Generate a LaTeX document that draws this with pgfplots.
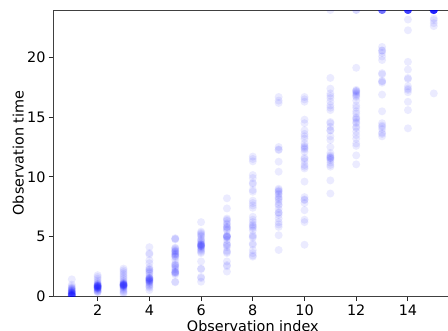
\documentclass[border=0pt]{standalone}
\usepackage{pgfplots}
\pgfplotsset{compat=1.18}
\usepackage{fontspec}
\setmainfont{DejaVu Sans}
\begin{document}
\begin{tikzpicture}
\begin{axis}[
  at={(0,0)}, anchor=south west,
  scale only axis, width=398.2pt, height=286pt,
  xmin=0.3, xmax=15.7, ymin=0, ymax=24,
  xtick={2,4,...,14}, ytick={0,5,...,20},
  tick pos=left, tick align=outside, major tick length=5pt,
  tick style={black!85, line width=0.9pt},
  axis line style={black!75, line width=1pt},
  /pgf/number format/assume math mode=true,
  ticklabel style={font=\fontsize{14.4}{17}\selectfont},
  xticklabel style={inner sep=4pt},
  yticklabel style={inner sep=3pt},
  xlabel={Observation index}, ylabel={Observation time},
  label style={font=\fontsize{14.4}{17}\selectfont},
  xlabel style={at={(axis description cs:0.5,-0.1234)}, anchor=base},
  ylabel style={at={(axis description cs:-0.0758,0.5)}, anchor=base},
  clip marker paths=true,
]
\addplot[only marks, mark=*, mark size=4pt, color=blue, mark options={fill=blue, draw opacity=0, fill opacity=0.08}] coordinates {
(1,1.4)(1,0.95)(1,0.8)(1,0.7)(1,0.65)(1,0.6)(1,0.55)(1,0.5)(1,0.45)(1,0.4)(1,0.35)(1,0.3)(1,0.3)(1,0.25)(1,0.2)(1,0.2)(1,0.15)(1,0.12)(1,0.1)(1,0.08)(1,0.05)(1,0.03)(1,0)(1,0)(1,0)(1,0.02)(1,0.1)(1,0.18)(1,0.25)(1,0.4)
(2,1.75)(2,1.6)(2,1.45)(2,1.3)(2,1.15)(2,1.05)(2,1.0)(2,0.95)(2,0.9)(2,0.88)(2,0.85)(2,0.82)(2,0.8)(2,0.78)(2,0.75)(2,0.72)(2,0.7)(2,0.68)(2,0.65)(2,0.6)(2,0.55)(2,0.5)(2,0.45)(2,0.4)(2,0.35)(2,0.3)(2,0.85)(2,0.75)(2,0.65)(2,0.9)
(3,2.3)(3,2.15)(3,2.0)(3,1.85)(3,1.7)(3,1.55)(3,1.4)(3,1.25)(3,1.1)(3,1.05)(3,1.0)(3,0.98)(3,0.95)(3,0.92)(3,0.9)(3,0.88)(3,0.85)(3,0.82)(3,0.8)(3,0.75)(3,0.7)(3,0.6)(3,0.5)(3,0.4)(3,0.3)(3,0.2)(3,1.0)(3,0.9)(3,0.95)(3,1.15)
(4,4.1)(4,3.6)(4,3.5)(4,2.75)(4,2.4)(4,2.25)(4,2.1)(4,2.0)(4,1.9)(4,1.7)(4,1.55)(4,1.5)(4,1.45)(4,1.4)(4,1.35)(4,1.3)(4,1.25)(4,1.2)(4,1.15)(4,1.1)(4,1.0)(4,0.9)(4,0.7)(4,0.5)(4,1.4)(4,1.3)(4,1.5)(4,2.2)(4,3.0)(4,0.8)
(5,4.85)(5,4.75)(5,4.05)(5,3.9)(5,3.75)(5,3.6)(5,3.5)(5,3.4)(5,3.3)(5,3.05)(5,2.75)(5,2.6)(5,2.5)(5,2.4)(5,2.25)(5,2.1)(5,2.0)(5,1.9)(5,1.8)(5,1.2)(5,1.15)(5,3.5)(5,3.7)(5,2.0)(5,4.0)(5,2.6)(5,3.3)(5,1.95)(5,4.8)(5,3.8)
(6,6.2)(6,5.4)(6,5.2)(6,5.0)(6,4.8)(6,4.6)(6,4.4)(6,4.3)(6,4.25)(6,4.2)(6,4.15)(6,4.1)(6,3.9)(6,3.7)(6,3.6)(6,2.9)(6,2.3)(6,2.25)(6,1.6)(6,1.5)(6,1.2)(6,4.3)(6,4.2)(6,5.1)(6,4.7)(6,4.5)(6,3.8)(6,4.0)(6,5.3)(6,4.35)
(7,8.2)(7,7.35)(7,6.5)(7,6.3)(7,6.0)(7,5.8)(7,5.7)(7,5.5)(7,5.0)(7,4.95)(7,5.0)(7,4.9)(7,4.7)(7,4.3)(7,4.25)(7,3.7)(7,3.6)(7,2.9)(7,2.6)(7,2.5)(7,2.05)(7,5.8)(7,6.1)(7,5.6)(7,4.4)(7,5.1)(7,3.8)(7,5.0)(7,6.4)(7,4.1)
(8,11.7)(8,11.5)(8,11.3)(8,10.15)(8,9.9)(8,9.5)(8,9.4)(8,8.9)(8,8.75)(8,7.8)(8,7.6)(8,7.4)(8,6.65)(8,6.4)(8,6.2)(8,5.9)(8,5.8)(8,5.7)(8,5.1)(8,5.0)(8,4.4)(8,4.3)(8,3.85)(8,3.6)(8,3.4)(8,3.3)(8,6.0)(8,5.5)(8,8.0)(8,4.9)
(9,16.7)(9,16.4)(9,16.2)(9,12.5)(9,12.3)(9,12.25)(9,11.27)(9,10.43)(9,9.0)(9,8.9)(9,8.8)(9,8.75)(9,8.6)(9,8.2)(9,8.1)(9,7.9)(9,7.7)(9,7.6)(9,7.3)(9,7.0)(9,6.8)(9,6.2)(9,6.0)(9,5.8)(9,5.1)(9,3.86)(9,8.5)(9,8.3)(9,7.0)(9,6.5)
(10,16.7)(10,16.5)(10,16.3)(10,14.8)(10,14.5)(10,13.9)(10,13.6)(10,13.4)(10,12.8)(10,12.6)(10,12.4)(10,12.3)(10,12.1)(10,11.6)(10,11.3)(10,11.0)(10,10.85)(10,10.7)(10,9.6)(10,8.3)(10,8.1)(10,8.05)(10,7.8)(10,7.2)(10,6.4)(10,6.2)(10,4.3)(10,12.5)(10,11.5)(10,13.2)
(11,24)(11,18.3)(11,17.4)(11,17.0)(11,16.6)(11,16.3)(11,16.0)(11,15.6)(11,14.6)(11,14.5)(11,13.9)(11,13.4)(11,13.1)(11,12.5)(11,11.8)(11,11.7)(11,11.6)(11,11.5)(11,11.4)(11,11.2)(11,11.0)(11,10.85)(11,9.7)(11,8.6)(11,13.9)(11,11.6)(11,16.8)(11,15.8)(11,14.2)(11,12.0)
(12,24)(12,24)(12,19.15)(12,17.3)(12,17.2)(12,17.0)(12,16.9)(12,16.7)(12,16.0)(12,15.5)(12,15.3)(12,14.8)(12,14.5)(12,14.2)(12,14.1)(12,13.5)(12,12.8)(12,11.8)(12,11.05)(12,17.1)(12,16.8)(12,15.0)(12,14.6)(12,13.8)(12,12.6)(12,17.2)(12,15.8)(12,14.9)(12,16.4)(12,13.2)
(13,24)(13,24)(13,24)(13,24)(13,24)(13,24)(13,24)(13,24)(13,24)(13,24)(13,20.9)(13,20.6)(13,20.4)(13,20.1)(13,19.8)(13,18.7)(13,18.0)(13,17.9)(13,16.9)(13,15.5)(13,14.5)(13,14.3)(13,14.0)(13,13.7)(13,13.4)(13,18.6)(13,20.6)(13,14.2)(13,13.6)(13,18.05)
(14,24)(14,24)(14,24)(14,24)(14,24)(14,24)(14,24)(14,24)(14,24)(14,24)(14,24)(14,24)(14,24)(14,24)(14,24)(14,24)(14,24)(14,23.2)(14,22.3)(14,19.65)(14,19.0)(14,18.2)(14,17.6)(14,17.4)(14,17.1)(14,16.3)(14,15.6)(14,14.07)(14,18.3)(14,17.3)
(15,24)(15,24)(15,24)(15,24)(15,24)(15,24)(15,24)(15,24)(15,24)(15,24)(15,24)(15,24)(15,24)(15,24)(15,24)(15,24)(15,24)(15,24)(15,24)(15,24)(15,24)(15,24)(15,24)(15,24)(15,24)(15,23.3)(15,23.15)(15,22.9)(15,22.65)(15,17.0)
};
\end{axis}
\pgfresetboundingbox
\useasboundingbox (-53.7pt,-34pt) rectangle (394.3pt,296pt);
\end{tikzpicture}
\end{document}
